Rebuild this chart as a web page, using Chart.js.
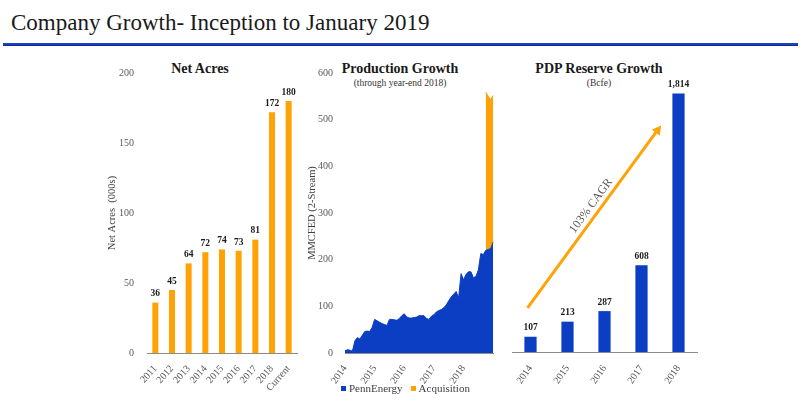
<!DOCTYPE html>
<html>
<head>
<meta charset="utf-8">
<script src="https://cdn.jsdelivr.net/npm/chart.js@4.4.0/dist/chart.umd.min.js"></script>
<style>
  body { margin: 0; width: 800px; height: 416px; background: #fff; position: relative; overflow: hidden; font-family: "Liberation Serif", serif; }
  canvas { position: absolute; }
  #title { position: absolute; left: 11px; top: 11px; font-size: 23px; line-height: 23px; color: #1a1a1a; white-space: nowrap; }
  #rule { position: absolute; left: 3px; top: 43px; width: 795px; height: 2px; background: #1d40c8; border-bottom: 1px solid #0e2a8c; }
  .ctitle { position: absolute; width: 200px; text-align: center; font-weight: bold; font-size: 14px; line-height: 14px; color: #1a1a1a; white-space: nowrap; }
  .csub { position: absolute; width: 200px; text-align: center; font-size: 9.5px; line-height: 9.5px; color: #333; white-space: nowrap; }
  #legend { position: absolute; left: 341px; top: 382px; font-size: 11px; line-height: 12px; color: #404040; white-space: nowrap; }
  #legend .sq { display: inline-block; width: 5px; height: 5px; margin-right: 3px; vertical-align: 1px; }
  #legend .item { margin-right: 8px; }
</style>
</head>
<body>
<div id="title">Company Growth- Inception to January 2019</div>
<div id="rule"></div>

<div class="ctitle" style="left:100px; top:62px;">Net Acres</div>
<div class="ctitle" style="left:300px; top:62px;">Production Growth</div>
<div class="csub" style="left:300px; top:79px;">(through year-end 2018)</div>
<div class="ctitle" style="left:499px; top:62px;">PDP Reserve Growth</div>
<div class="csub" style="left:499px; top:79px;">(Bcfe)</div>

<canvas id="acresChart" width="200" height="352" style="left:100px; top:48px;"></canvas>
<canvas id="prodChart" width="205" height="352" style="left:300px; top:48px;"></canvas>
<canvas id="reserveChart" width="205" height="340" style="left:500px; top:60px;"></canvas>
<div id="legend"></div>

<script>
// DATA
const acreYears = ['2011', '2012', '2013', '2014', '2015', '2016', '2017', '2018', 'Current'];
const acreValues = [36, 45, 64, 72, 74, 73, 81, 172, 180];

// monthly, Jan 2014 .. Jan 2019
const prodYears = ['2014', '2015', '2016', '2017', '2018', '2019'];
const pennEnergy = [
    5, 7, 6, 4, 26, 33, 30, 38, 46, 47, 46, 55,
    72, 69, 66, 63, 61, 59, 72, 72, 71, 70, 74, 80,
    84, 77, 75, 75, 76, 77, 80, 80, 80, 74, 72, 79,
    82, 88, 91, 93, 97, 103, 112, 120, 126, 132, 118, 170,
    157, 168, 174, 174, 161, 164, 178, 213, 211, 220, 222, 224,
    238
];
const acquisition = [
    null, null, null, null, null, null, null, null, null, null, null, null,
    null, null, null, null, null, null, null, null, null, null, null, null,
    null, null, null, null, null, null, null, null, null, null, null, null,
    null, null, null, null, null, null, null, null, null, null, null, null,
    null, null, null, null, null, null, null, null, null, 339, 328, 319,
    314
];
const prodSeries = ['PennEnergy', 'Acquisition'];

const reserveYears = ['2014', '2015', '2016', '2017', '2018'];
const reserveValues = [107, 213, 287, 608, 1814];
const cagrFrom = [-0.08, 310];
const cagrTo = [3.53, 1590];
const cagrText = '103% CAGR';

const ORANGE = '#FFA206';
const BLUE = '#0C3EC3';

Chart.defaults.font.family = '"Liberation Serif", serif';
Chart.defaults.font.size = 10;
Chart.defaults.color = '#595959';

// month labels for the category axis
let prodMonths = [];
for (let i = 0; i < pennEnergy.length; i++) {
    prodMonths.push(prodYears[Math.floor(i / 12)] + '-' + String(i % 12 + 1).padStart(2, '0'));
}

// LABELS ABOVE BARS
const valueLabels = {
    id: 'valueLabels',
    afterDatasetsDraw(chart) {
        const ctx = chart.ctx;
        const meta = chart.getDatasetMeta(0);
        const vals = chart.data.datasets[0].data;
        ctx.save();
        ctx.font = 'bold 9.5px "Liberation Serif", serif';
        ctx.fillStyle = '#1a1a1a';
        ctx.textAlign = 'center';
        ctx.textBaseline = 'bottom';
        meta.data.forEach((bar, i) => {
            ctx.fillText(vals[i].toLocaleString('en-US'), bar.x, bar.y - 4);
        });
        ctx.restore();
    }
};

// CAGR ARROW
const cagrArrow = {
    id: 'cagrArrow',
    afterDatasetsDraw(chart) {
        const ctx = chart.ctx;
        const x = chart.scales.x, y = chart.scales.y;
        const x0 = x.getPixelForValue(cagrFrom[0]), y0 = y.getPixelForValue(cagrFrom[1]);
        const x1 = x.getPixelForValue(cagrTo[0]), y1 = y.getPixelForValue(cagrTo[1]);
        const ang = Math.atan2(y1 - y0, x1 - x0);
        const head = 9;

        ctx.save();
        ctx.strokeStyle = ORANGE;
        ctx.fillStyle = ORANGE;
        ctx.lineWidth = 3;
        ctx.beginPath();
        ctx.moveTo(x0, y0);
        ctx.lineTo(x1 - head * 0.8 * Math.cos(ang), y1 - head * 0.8 * Math.sin(ang));
        ctx.stroke();
        ctx.translate(x1, y1);
        ctx.rotate(ang);
        ctx.beginPath();
        ctx.moveTo(0, 0);
        ctx.lineTo(-head, -head * 0.55);
        ctx.lineTo(-head, head * 0.55);
        ctx.closePath();
        ctx.fill();
        ctx.restore();

        const t = 0.53, off = 9;
        const px = x0 + (x1 - x0) * t + Math.sin(ang) * off;
        const py = y0 + (y1 - y0) * t - Math.cos(ang) * off;
        ctx.save();
        ctx.translate(px, py);
        ctx.rotate(ang);
        ctx.font = '12px "Liberation Serif", serif';
        ctx.fillStyle = '#595959';
        ctx.textAlign = 'center';
        ctx.textBaseline = 'middle';
        ctx.fillText(cagrText, 0, 0);
        ctx.restore();
    }
};

// NET ACRES
new Chart(document.getElementById('acresChart'), {
    type: 'bar',
    data: {
        labels: acreYears,
        datasets: [{
            data: acreValues,
            backgroundColor: ORANGE,
            categoryPercentage: 1,
            barPercentage: 0.36
        }]
    },
    options: {
        responsive: false,
        animation: false,
        layout: { padding: { top: 25, right: 3, left: 0, bottom: 0 } },
        plugins: { legend: { display: false }, tooltip: { enabled: false } },
        scales: {
            x: {
                grid: { display: false },
                border: { display: true, color: '#8c8c8c', width: 1 },
                ticks: { maxRotation: 48, minRotation: 48, autoSkip: false, padding: 2 },
                afterFit: s => { s.height = 47; }
            },
            y: {
                min: 0, max: 200,
                grid: { display: false, drawTicks: false },
                border: { display: false },
                ticks: { stepSize: 50, padding: 13 },
                title: { display: true, text: 'Net Acres  (000s)', color: '#404040', font: { size: 10.5 }, padding: { top: 6, bottom: 0 } },
                afterFit: s => { s.width = 47; }
            }
        }
    },
    plugins: [valueLabels]
});

// PRODUCTION
const prodChart = new Chart(document.getElementById('prodChart'), {
    type: 'line',
    data: {
        labels: prodMonths,
        datasets: [{
            label: prodSeries[0],
            data: pennEnergy,
            backgroundColor: BLUE,
            borderColor: BLUE,
            borderWidth: 1,
            fill: 'origin',
            pointRadius: 0,
            tension: 0
        }, {
            label: prodSeries[1],
            data: acquisition,
            backgroundColor: ORANGE,
            borderColor: ORANGE,
            borderWidth: 1,
            fill: '-1',
            pointRadius: 0,
            tension: 0
        }]
    },
    options: {
        responsive: false,
        animation: false,
        layout: { padding: { top: 25, right: 9, left: 0, bottom: 0 } },
        plugins: { legend: { display: false }, tooltip: { enabled: false } },
        scales: {
            x: {
                grid: { display: false },
                border: { display: true, color: '#8c8c8c', width: 1 },
                ticks: {
                    autoSkip: false,
                    maxRotation: 55, minRotation: 55,
                    padding: 2,
                    callback: (v, i) => (i % 12 === 0 && i < 60) ? prodYears[i / 12] : ''
                },
                afterFit: s => { s.height = 47; }
            },
            y: {
                stacked: true,
                min: 0, max: 600,
                grid: { display: false, drawTicks: false },
                border: { display: false },
                ticks: { stepSize: 100, padding: 12 },
                title: { display: true, text: 'MMCFED (2-Stream)', color: '#404040', font: { size: 10.5 }, padding: { top: 6, bottom: 0 } },
                afterFit: s => { s.width = 45; }
            }
        }
    }
});

// legend built from the chart's datasets
document.getElementById('legend').innerHTML = prodChart.data.datasets.map(ds =>
    `<span class="item"><span class="sq" style="background:${ds.backgroundColor}"></span>${ds.label}</span>`
).join('');

// PDP RESERVES
new Chart(document.getElementById('reserveChart'), {
    type: 'bar',
    data: {
        labels: reserveYears,
        datasets: [{
            data: reserveValues,
            backgroundColor: BLUE,
            categoryPercentage: 1,
            barPercentage: 0.33
        }]
    },
    options: {
        responsive: false,
        animation: false,
        layout: { padding: { top: 7, right: 8, left: 12, bottom: 0 } },
        plugins: { legend: { display: false }, tooltip: { enabled: false } },
        scales: {
            x: {
                grid: { display: false },
                border: { display: true, color: '#8c8c8c', width: 1 },
                ticks: { maxRotation: 55, minRotation: 55, autoSkip: false, padding: 3 },
                afterFit: s => { s.height = 48; }
            },
            y: {
                display: false,
                min: 0, max: 2000
            }
        }
    },
    plugins: [valueLabels, cagrArrow]
});
</script>
</body>
</html>
